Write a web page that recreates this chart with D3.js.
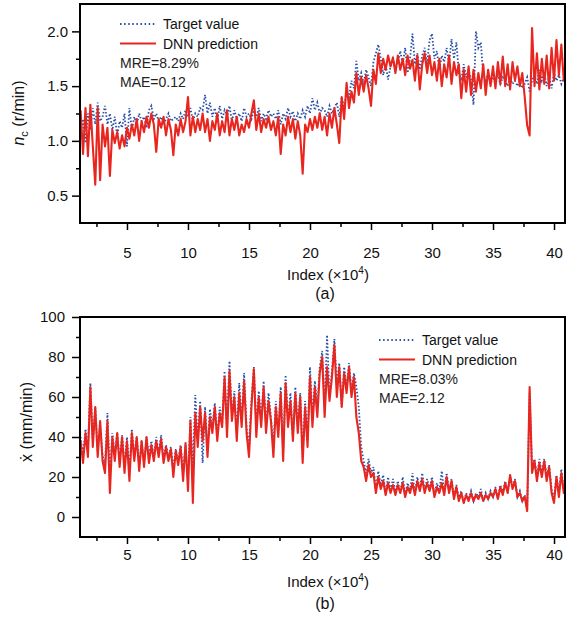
<!DOCTYPE html>
<html>
<head>
<meta charset="utf-8">
<script src="https://cdn.jsdelivr.net/npm/d3@7"></script>
<style>
  body { margin: 0; background: #fff; }
  svg { font-family: "Liberation Sans", Arial, sans-serif; }
  .domain { display: none; }
  .tick line { stroke: #000; stroke-width: 1.5; }
  .tick text { fill: #111; }
</style>
</head>
<body>
<div id="chart"></div>
<script>
// data: index in units of 10^4, sampled every 0.2
const xIdx = d3.range(0, 200).map(i => +(1.2 + 0.2 * i).toFixed(1));

// (a) spindle speed n_c (r/min)
const predA = [
  1.28,0.88,1.30,0.86,1.33,0.95,0.60,1.30,0.64,1.15,
  0.95,1.12,0.68,1.10,0.98,1.08,0.93,1.05,0.95,1.12,
  1.02,1.15,1.05,1.20,1.00,1.18,1.08,1.22,1.12,1.25,
  1.15,0.90,1.20,1.12,1.22,1.05,1.20,1.10,0.87,1.15,
  1.05,1.20,1.08,1.18,1.40,1.05,1.22,1.08,1.20,1.10,
  1.25,1.08,1.20,1.00,1.18,1.10,1.25,1.05,1.18,1.08,
  1.28,1.05,1.20,1.10,1.22,1.05,1.15,1.08,1.20,1.12,
  1.25,1.37,1.10,1.25,1.08,1.20,1.12,1.22,1.10,1.18,
  1.05,1.22,0.88,1.15,1.05,1.22,1.08,1.20,1.02,1.18,
  1.05,0.70,1.15,1.08,1.20,1.10,1.22,1.12,1.25,1.10,
  1.22,1.05,1.25,1.12,1.30,1.15,0.98,1.40,1.20,1.53,
  1.30,1.45,1.35,1.62,1.42,1.58,1.45,1.60,1.48,1.32,
  1.65,1.52,1.80,1.62,1.75,1.65,1.78,1.68,1.76,1.62,
  1.78,1.65,1.75,1.60,1.78,1.66,1.74,1.55,1.78,1.47,
  1.70,1.80,1.62,1.78,1.60,1.72,1.55,1.75,1.50,1.70,
  1.58,1.78,1.52,1.72,1.60,1.70,1.39,1.65,1.45,1.68,
  1.42,1.65,1.45,1.62,1.48,1.70,1.42,1.65,1.50,1.68,
  1.48,1.72,1.52,1.77,1.50,1.70,1.47,1.72,1.55,1.68,
  1.50,1.62,1.40,1.14,1.05,2.03,1.50,1.80,1.47,1.75,
  1.52,1.78,1.48,1.85,1.55,1.92,1.60,1.88,1.55,1.75
];
const targA = [
  1.05,1.20,0.98,1.25,1.10,1.30,1.15,1.35,1.18,1.22,
  1.32,1.15,1.25,1.10,1.22,1.05,1.18,1.12,1.25,0.95,
  1.30,1.10,1.22,1.15,1.25,1.18,1.22,1.12,1.28,1.32,
  1.20,1.25,1.18,1.22,1.15,1.20,1.25,1.18,1.20,1.22,
  1.18,1.25,1.20,1.28,1.22,1.30,1.18,1.25,1.22,1.30,
  1.28,1.42,1.25,1.35,1.22,1.30,1.18,1.32,1.20,1.28,
  1.22,1.32,1.18,1.28,1.20,1.25,1.18,1.30,1.22,1.25,
  1.20,1.28,1.22,1.30,1.18,1.25,1.20,1.28,1.22,1.25,
  1.20,1.28,1.15,1.25,1.20,1.30,1.22,1.27,1.18,1.25,
  1.20,1.28,1.22,1.32,1.25,1.39,1.28,1.35,1.25,1.30,
  1.28,1.22,1.32,1.25,1.30,1.35,1.22,1.40,1.30,1.45,
  1.40,1.55,1.48,1.73,1.55,1.62,1.52,1.65,1.58,1.50,
  1.72,1.80,1.88,1.75,1.60,1.70,1.56,1.68,1.75,1.65,
  1.72,1.82,1.70,1.85,1.62,1.75,1.98,1.70,1.80,1.65,
  1.78,1.85,1.70,1.92,1.98,1.75,1.82,1.65,1.78,1.72,
  1.85,1.70,1.93,1.75,1.90,1.62,1.55,1.70,1.58,1.65,
  1.55,1.33,2.00,1.85,1.90,1.60,1.55,1.62,1.52,1.58,
  1.55,1.60,1.52,1.58,1.55,1.50,1.57,1.52,1.55,1.50,
  1.55,1.48,1.52,1.58,1.45,1.55,1.60,1.52,1.65,1.55,
  1.62,1.50,1.58,1.48,1.62,1.55,1.60,1.52,1.58,1.62
];

// (b) feed rate x-dot (mm/min)
const predB = [
  38,27,42,30,65,35,55,30,48,28,
  22,48,12,40,28,42,25,40,22,38,
  18,42,28,40,23,38,25,40,27,36,
  28,38,30,39,27,35,28,34,20,33,
  26,35,18,37,13,48,7,52,35,55,
  38,52,30,50,42,55,38,52,45,70,
  40,73,48,60,38,62,45,68,42,30,
  55,74,40,60,45,65,42,58,48,30,
  55,40,62,28,67,45,58,38,62,42,
  60,27,55,35,70,45,65,50,72,80,
  50,75,58,70,86,60,75,55,72,62,
  75,60,70,50,42,28,25,18,26,20,
  22,12,20,14,18,11,17,12,16,11,
  16,12,17,10,15,12,17,11,18,13,
  19,12,17,13,18,10,15,12,17,11,
  20,12,18,9,15,8,12,7,11,8,
  12,8,11,9,12,8,11,9,12,10,
  14,9,15,11,17,12,21,14,18,10,
  12,8,10,3,65,22,28,18,27,20,
  28,18,25,12,7,20,10,22,12,18
];
const targB = [
  40,30,44,33,67,38,55,33,46,31,
  26,52,20,42,32,42,28,41,26,40,
  22,44,30,40,25,38,27,40,30,38,
  30,40,32,41,29,36,30,35,24,34,
  28,36,22,36,18,50,25,61,38,58,
  27,55,35,54,45,57,40,55,47,73,
  45,78,50,63,42,67,48,72,45,35,
  58,75,45,63,48,68,45,62,50,35,
  58,42,65,32,71,48,62,40,65,45,
  62,30,58,38,75,50,68,55,75,83,
  55,91,60,73,89,65,77,55,75,65,
  77,63,72,65,55,35,28,22,29,22,
  25,14,23,16,21,12,20,13,19,12,
  18,12,20,11,17,13,22,12,20,14,
  22,13,19,14,20,11,17,13,23,12,
  22,13,19,10,16,9,13,7,12,9,
  13,8,12,10,14,8,12,9,13,10,
  15,9,16,12,18,12,20,15,19,10,
  13,8,11,4,62,24,29,20,29,22,
  29,20,26,14,9,21,12,24,13,19
];

const xTicks = [5, 10, 15, 20, 25, 30, 35, 40];
const xMinor = [2.5, 7.5, 12.5, 17.5, 22.5, 27.5, 32.5, 37.5];

const width = 566;
const height = 621;
const left = 80, right = 565;
const blue = '#2a4fa6';
const red = '#e8261f';

const svg = d3.select('div#chart').append('svg').attr('width', width).attr('height', height);
const x = d3.scaleLinear().domain([1.15, 40.9]).range([left, right]);

function drawPanel(p) {
  const y = d3.scaleLinear().domain(p.yDomain).range([p.bottom, p.top]);
  const g = svg.append('g').attr('class', 'panel-' + p.name);

  svg.append('clipPath').attr('id', 'clip-' + p.name)
    .append('rect').attr('x', left).attr('y', p.top)
    .attr('width', right - left).attr('height', p.bottom - p.top);

  const line = d3.line().x((d, i) => x(xIdx[i])).y(d => y(d));

  g.append('path').datum(p.target)
    .attr('clip-path', `url(#clip-${p.name})`)
    .attr('fill', 'none').attr('stroke', blue).attr('stroke-width', 1.8)
    .attr('stroke-dasharray', '1.5,2').attr('d', line);
  g.append('path').datum(p.pred)
    .attr('clip-path', `url(#clip-${p.name})`)
    .attr('fill', 'none').attr('stroke', red).attr('stroke-width', 2.1)
    .attr('stroke-linejoin', 'round').attr('d', line);

  // axes: major and minor ticks
  g.append('g').attr('transform', `translate(0,${p.bottom})`)
    .call(d3.axisBottom(x).tickValues(xTicks).tickSize(7).tickPadding(p.xPad))
    .selectAll('text').style('font-size', '15px');
  g.append('g').attr('transform', `translate(0,${p.bottom})`)
    .call(d3.axisBottom(x).tickValues(xMinor).tickSize(4).tickFormat(''));
  g.append('g').attr('transform', `translate(${left},0)`)
    .call(d3.axisLeft(y).tickValues(p.yTicks).tickSize(8).tickPadding(p.yPad).tickFormat(p.yFmt))
    .selectAll('text').style('font-size', '15px');
  g.append('g').attr('transform', `translate(${left},0)`)
    .call(d3.axisLeft(y).tickValues(p.yMinor).tickSize(4).tickFormat(''));

  // frame
  g.append('rect').attr('x', left).attr('y', p.top)
    .attr('width', right - left).attr('height', p.bottom - p.top)
    .attr('fill', 'none').attr('stroke', '#000').attr('stroke-width', 2);

  // axis titles
  const xt = g.append('text').attr('x', 287).attr('y', p.bottom + p.xTitleDy)
    .style('font-size', '15px').attr('fill', '#111');
  xt.append('tspan').text('Index (×10');
  xt.append('tspan').text('4').style('font-size', '10px').attr('dy', -6);
  xt.append('tspan').text(')').attr('dy', 6);

  g.append('text').attr('x', 325).attr('y', p.bottom + p.capDy)
    .attr('text-anchor', 'middle').style('font-size', '16px').attr('fill', '#111')
    .text(p.caption);

  const yt = g.append('text')
    .attr('transform', `translate(${p.yTitleX},${p.yTitleY}) rotate(-90)`)
    .attr('text-anchor', 'middle').style('font-size', '16px').attr('fill', '#111');
  p.yTitle(yt);

  // legend
  const lg = g.append('g').attr('transform', `translate(${p.legX},${p.legY})`);
  lg.append('line').attr('x1', 0).attr('x2', 36).attr('y1', 0).attr('y2', 0)
    .attr('stroke', blue).attr('stroke-width', 1.8).attr('stroke-dasharray', '1.5,2.6');
  lg.append('text').attr('x', 43).attr('y', 5).style('font-size', '14px').attr('fill', '#111').text('Target value');
  lg.append('line').attr('x1', 0).attr('x2', 36).attr('y1', 19.5).attr('y2', 19.5)
    .attr('stroke', red).attr('stroke-width', 2);
  lg.append('text').attr('x', 43).attr('y', 24.5).style('font-size', '14px').attr('fill', '#111').text('DNN prediction');
  lg.append('text').attr('x', 0).attr('y', 44).style('font-size', '14px').attr('fill', '#222').text(p.mre);
  lg.append('text').attr('x', 0).attr('y', 62.5).style('font-size', '14px').attr('fill', '#222').text(p.mae);
}

drawPanel({
  name: 'a', top: 4, bottom: 223,
  yDomain: [0.25, 2.25], yTicks: [0.5, 1.0, 1.5, 2.0], yMinor: [0.75, 1.25, 1.75],
  yFmt: d3.format('.1f'), yPad: 4, xPad: 17,
  pred: predA, target: targA,
  xTitleDy: 57, capDy: 76, caption: '(a)',
  yTitleX: 24, yTitleY: 113,
  yTitle: t => {
    t.append('tspan').text('n').style('font-style', 'italic');
    t.append('tspan').text('c').style('font-size', '11px').attr('dy', 4);
    t.append('tspan').text(' (r/min)').attr('dy', -4);
  },
  legX: 120, legY: 24, mre: 'MRE=8.29%', mae: 'MAE=0.12'
});

drawPanel({
  name: 'b', top: 317, bottom: 537,
  yDomain: [-10, 100], yTicks: [0, 20, 40, 60, 80, 100], yMinor: [10, 30, 50, 70, 90],
  yFmt: d3.format('d'), yPad: 7, xPad: 5,
  pred: predB, target: targB,
  xTitleDy: 50, capDy: 72, caption: '(b)',
  yTitleX: 32, yTitleY: 422,
  yTitle: t => { t.text('ẋ (mm/min)'); },
  legX: 379, legY: 340, mre: 'MRE=8.03%', mae: 'MAE=2.12'
});
</script>
</body>
</html>
